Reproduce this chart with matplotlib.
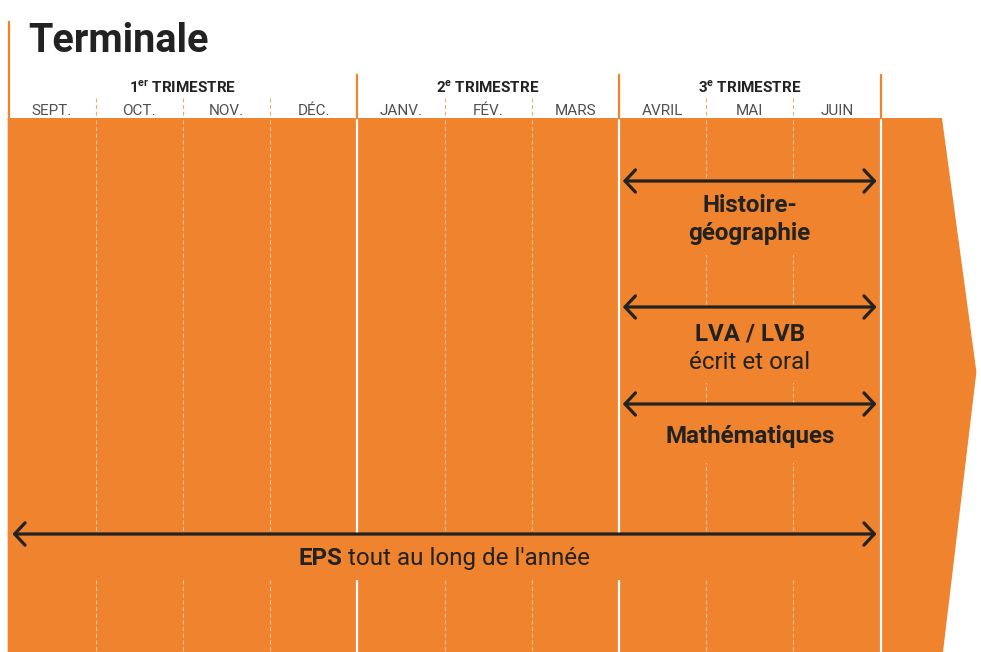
import matplotlib.pyplot as plt
from matplotlib.patches import Polygon, Rectangle
from matplotlib.transforms import offset_copy

plt.rcParams['font.family'] = ['Roboto', 'DejaVu Sans']

# calendar
mois = ['SEPT.', 'OCT.', 'NOV.', 'DÉC.', 'JANV.', 'FÉV.', 'MARS', 'AVRIL', 'MAI', 'JUIN']
trimestres = ['1$^{\\mathdefault{er}}$ TRIMESTRE',
              '2$^{\\mathdefault{e}}$ TRIMESTRE',
              '3$^{\\mathdefault{e}}$ TRIMESTRE']
trim_debut = [0, 4, 7]
trim_fin = [4, 7, 10]

# subjects: name (bold), detail (regular), months covered
matieres = ['Histoire-\ngéographie', 'LVA / LVB', 'Mathématiques', 'EPS']
details = ['', 'écrit et oral', '', " tout au long de l'année"]
detail_inline = [False, False, False, True]
debut = [7, 7, 7, 0]
fin = [10, 10, 10, 10]

# layout (rows in pixels from top)
arrow_rows = [181, 307, 404, 534]
text_rows = [212, 341, 443, 565]
gap_ends = [255, 383, 463, 580]
line_gap = 28

orange = '#EF832E'
dark = '#222222'
fs = 17.4

W, H = 981, 652
x0, mw = 8.5, 87.2  # pixel position of september start, month width

fig = plt.figure(figsize=(W / 100, H / 100), dpi=100)
ax = fig.add_axes([0, 0, 1, 1])
ax.set_xlim(-x0 / mw, (W - x0) / mw)
ax.set_ylim(H, 0)
ax.axis('off')

top = 118
n = len(mois)

# orange body with arrow tip on the right
body = Polygon([(-0.01, top), (10.705, top), (11.10, 372), (10.71, H + 5), (-0.01, H + 5)],
               closed=True, fc=orange, ec='none', zorder=1)
ax.add_patch(body)

# vertical lines inside body
for k in range(1, n + 1):
    if k in trim_fin:
        ax.plot([k, k], [top + 2, H], color='white', lw=1.6, zorder=2)
    else:
        ax.plot([k, k], [top + 2, H], color='white', lw=0.8, alpha=0.55,
                linestyle=(0, (3.5, 2.5)), zorder=2)

# header lines
ax.plot([0, 0], [22, top], color=orange, lw=1.6, zorder=2)
for k in range(1, n + 1):
    if k in trim_fin:
        ax.plot([k, k], [75, top], color=orange, lw=1.6, zorder=2)
    else:
        ax.plot([k, k], [98, top], color=orange, lw=0.8, alpha=0.7,
                linestyle=(0, (3.5, 2.5)), zorder=2)

# title
ax.text(0.224, 52, 'Terminale', fontsize=28.5, fontweight='bold', color=dark,
        ha='left', va='baseline')

# month labels
for i, m in enumerate(mois):
    ax.text(i + 0.5, 115, m, fontsize=11, color='#505050', fontweight='normal',
            ha='center', va='baseline')

# trimester labels
for t, a, b in zip(trimestres, trim_debut, trim_fin):
    ax.text((a + b) / 2, 93, t, fontsize=11, fontweight='bold', color=dark,
            ha='center', va='baseline')

fig.canvas.draw()
renderer = fig.canvas.get_renderer()

inset = 0.045
for i in range(len(matieres)):
    a, b = debut[i], fin[i]
    # break the thin lines behind the label
    ax.add_patch(Rectangle((a + 0.03, arrow_rows[i]), b - a - 0.06,
                           gap_ends[i] - arrow_rows[i], fc=orange, ec='none', zorder=3))
    ax.annotate('', xy=(b - inset, arrow_rows[i]), xytext=(a + inset, arrow_rows[i]),
                arrowprops=dict(arrowstyle='<->,head_length=0.75,head_width=0.8',
                                lw=2.3, color=dark, shrinkA=0, shrinkB=0,
                                mutation_scale=10),
                zorder=4)
    cx = (a + b) / 2
    if detail_inline[i]:
        t1 = ax.text(cx, text_rows[i], matieres[i], fontsize=fs, fontweight='bold',
                     color=dark, ha='left', va='baseline', zorder=4)
        t2 = ax.text(cx, text_rows[i], details[i], fontsize=fs, color=dark,
                     ha='left', va='baseline', zorder=4)
        w1 = t1.get_window_extent(renderer).width
        w2 = t2.get_window_extent(renderer).width
        start = -(w1 + w2) / 2
        t1.set_transform(offset_copy(ax.transData, fig=fig, x=start, y=0, units='dots'))
        t2.set_transform(offset_copy(ax.transData, fig=fig, x=start + w1, y=0, units='dots'))
    else:
        lines = matieres[i].split('\n')
        for j, ln in enumerate(lines):
            ax.text(cx, text_rows[i] + j * line_gap, ln, fontsize=fs, fontweight='bold',
                    color=dark, ha='center', va='baseline', zorder=4)
        if details[i]:
            ax.text(cx, text_rows[i] + len(lines) * line_gap, details[i], fontsize=fs,
                    color=dark, ha='center', va='baseline', zorder=4)

fig.savefig('out.png', dpi=100)
